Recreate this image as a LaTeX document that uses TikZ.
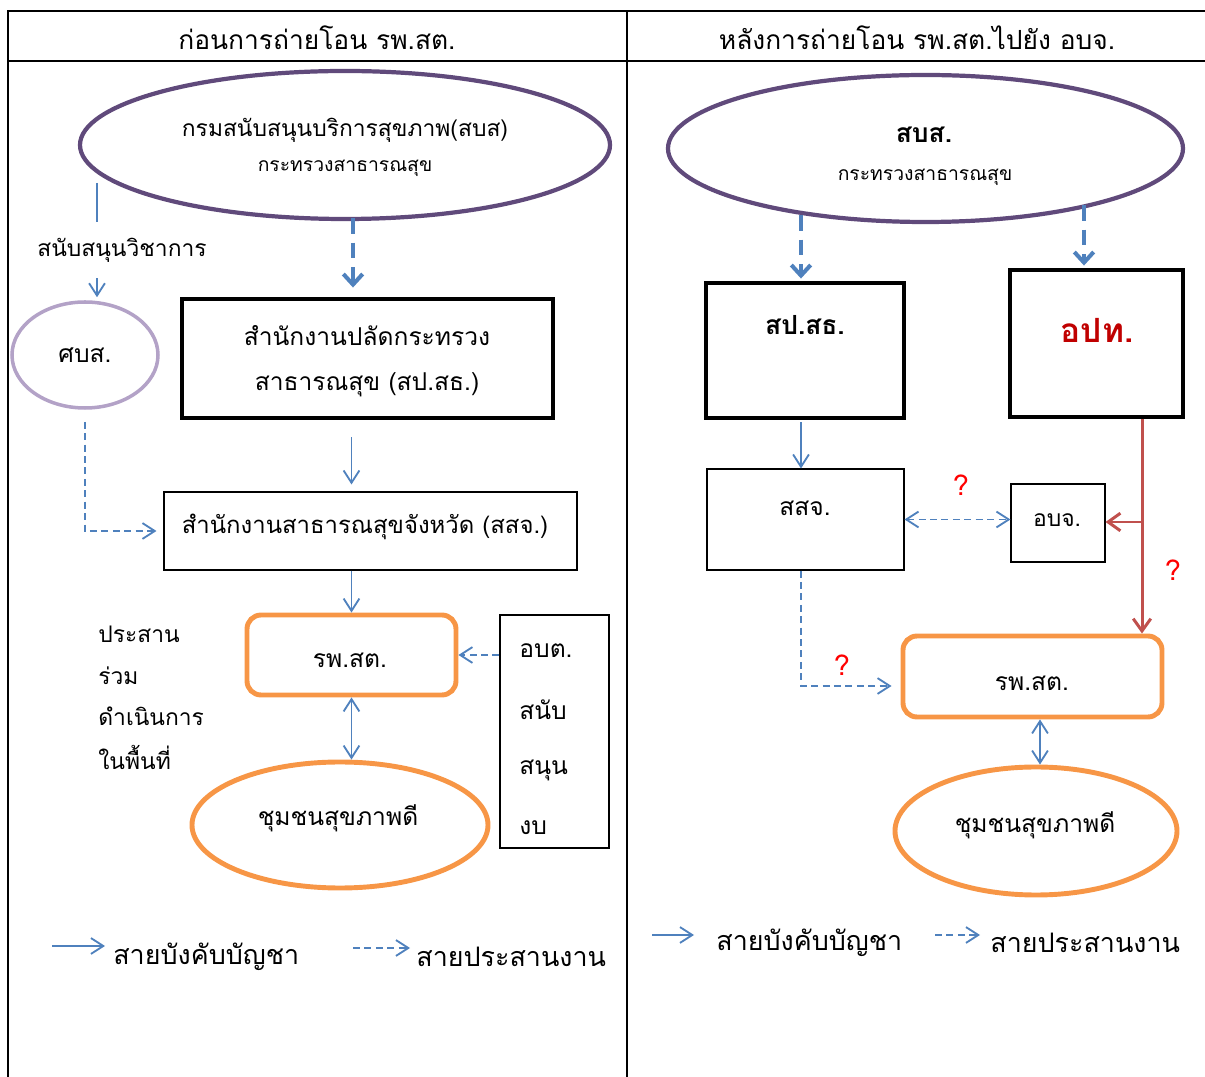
\documentclass[tikz,border=0pt]{standalone}
\usepackage{fontspec}
\setmainfont[Script=Thai]{Loma}
\usetikzlibrary{arrows.meta,shapes.geometric,calc}
\definecolor{oblue}{HTML}{4F81BD}
\definecolor{oorange}{HTML}{F79646}
\definecolor{opurple}{HTML}{604A7B}
\definecolor{lpurple}{HTML}{B3A2C7}
\definecolor{ored}{HTML}{C0504D}
\definecolor{dred}{HTML}{C00000}
\begin{document}
\begin{tikzpicture}[x=0.02cm,y=-0.02cm,
  sz/.style 2 args={minimum width=#1*0.02cm, minimum height=#2*0.02cm},
  every node/.style={inner sep=0pt, font=\fontsize{13}{15}\selectfont},
  hdr/.style={font=\fontsize{15}{18}\selectfont},
  big/.style={font=\fontsize{14}{17}\selectfont},
  mid/.style={font=\fontsize{13.6}{16}\selectfont},
  small/.style={font=\fontsize{11}{13}\selectfont},
  leg/.style={font=\fontsize{15.3}{18}\selectfont, anchor=west},
  ell/.style={ellipse, line width=2.4pt},
  thickbox/.style={draw, rectangle, line width=2.8pt},
  thinbox/.style={draw, rectangle, line width=0.6pt},
  obox/.style={draw=oorange, rectangle, rounded corners=8pt, line width=2.8pt},
  sarr/.style={draw=oblue, line width=1.05pt, -{Straight Barb[length=7pt,width=9pt]}},
  darr/.style={draw=oblue, line width=1.05pt, {Straight Barb[length=7pt,width=9pt]}-{Straight Barb[length=7pt,width=9pt]}},
  dsarr/.style={draw=oblue, line width=1.05pt, dash pattern=on 4pt off 2.5pt, -{Straight Barb[length=7pt,width=9pt]}},
  ddsarr/.style={draw=oblue, line width=1.05pt, dash pattern=on 4pt off 2.5pt, {Straight Barb[length=7pt,width=9pt]}-{Straight Barb[length=7pt,width=9pt]}},
  dthick/.style={draw=oblue, line width=2.3pt, dash pattern=on 9pt off 5pt, -{Straight Barb[length=6pt,width=11pt]}},
  redarr/.style={draw=ored, line width=1.7pt, -{Straight Barb[length=7pt,width=10pt]}},
  qm/.style={text=red, font=\fontsize{16}{19}\selectfont}
]
\useasboundingbox (0,0) rectangle (1205,1077);
% table
\draw[line width=1.1pt] (8,1077) -- (8,11) -- (1205,11);
\draw[line width=1.1pt] (8,61) -- (1205,61);
\draw[line width=1.1pt] (627,11) -- (627,1077);
\node[hdr] (h1) at (317,38) {ก่อนการถ่ายโอน รพ.สต.};
\node[hdr] (h2) at (917,38) {หลังการถ่ายโอน รพ.สต.ไปยัง อบจ.};

% ---------- left ----------
\node[ell, draw=opurple, sz={530}{148}] (dss1) at (345,145) {};
\node (dss1a) at (345,130) {กรมสนับสนุนบริการสุขภาพ(สบส)};
\node[small] (dss1b) at (345,168) {กระทรวงสาธารณสุข};
\node[ell, draw=lpurple, line width=2pt, sz={146}{106}, big] (sbs) at (85,355) {ศบส.};
\node[thickbox, sz={371}{119}] (sp) at (367.5,358.5) {};
\node[big] (spa) at (367,336) {สำนักงานปลัดกระทรวง};
\node[big] (spb) at (367,385) {สาธารณสุข (สป.สธ.)};
\node[thinbox, sz={413}{78}] (ssj) at (370.5,531) {};
\node[mid] (ssja) at (365,527) {สำนักงานสาธารณสุขจังหวัด (สสจ.)};
\node[obox, sz={209}{80}] (rp1) at (351.5,655) {};
\node[big] (rp1a) at (350,660) {รพ.สต.};
\node[thinbox, sz={109}{233}] (obt) at (554.5,731.5) {};
\node[big, anchor=west] (obt1) at (519,651) {อบต.};
\node[big, anchor=west] (obt2) at (519,710) {สนับ};
\node[big, anchor=west] (obt3) at (519,770) {สนุน};
\node[big, anchor=west] (obt4) at (519,828) {งบ};
\node[ell, draw=oorange, line width=2.8pt, sz={296}{126}] (com1) at (340,825) {};
\node[big] (com1a) at (338,818) {ชุมชนสุขภาพดี};
\node[anchor=west] (p1) at (98,634) {ประสาน};
\node[anchor=west] (p2) at (98,676) {ร่วม};
\node[anchor=west] (p3) at (98,716) {ดำเนินการ};
\node[anchor=west] (p4) at (98,757) {ในพื้นที่};

\coordinate (c1) at (353,218);
\draw[dthick, shorten >=9*0.02cm] (c1) -- (c1 |- sp.north);
\coordinate (sv) at (97,183);
\draw[sarr, shorten >=3*0.02cm] (sv) -- (sv |- sbs.north);
\node[fill=white, inner ysep=9pt, inner xsep=1pt] (sup) at (122,250) {สนับสนุนวิชาการ};
\draw[sarr, shorten <=17*0.02cm, shorten >=7*0.02cm] (sp.south -| rp1) -- (ssj.north -| rp1);
\draw[sarr] (ssj.south -| rp1) -- (rp1.north);
\draw[darr] (rp1.south) -- (rp1.south |- com1.north);
\draw[dsarr] (obt.west |- rp1) -- (rp1.east);
\draw[dsarr, shorten <=12*0.02cm, shorten >=7*0.02cm] (sbs.south) |- (ssj.west);

\coordinate (l1a) at (52,946);
\coordinate (l1b) at (105,946);
\draw[sarr] (l1a) -- (l1b);
\node[leg] (leg1) at (113,957) {สายบังคับบัญชา};
\coordinate (l2a) at (353,948);
\coordinate (l2b) at (410,948);
\draw[dsarr] (l2a) -- (l2b);
\node[leg] (leg2) at (416,957) {สายประสานงาน};

% ---------- right ----------
\node[ell, draw=opurple, sz={515}{147}] (dss2) at (925.5,148.5) {};
\node[font=\fontsize{15}{18}\selectfont\bfseries] (dss2a) at (924,135) {สบส.};
\node[small] (dss2b) at (925,177) {กระทรวงสาธารณสุข};
\node[thickbox, sz={198}{135}] (sp2) at (805,350.5) {};
\node[font=\fontsize{15}{18}\selectfont\bfseries] (sp2a) at (805,325) {สป.สธ.};
\node[thickbox, sz={173}{147}] (opt) at (1096.5,343.5) {};
\node[text=dred, font=\fontsize{19}{22}\selectfont\bfseries] (opta) at (1097,330) {อปท.};
\node[thinbox, sz={197}{101}] (ssj2) at (805.5,519.5) {};
\node[big] (ssj2a) at (805,508) {สสจ.};
\node[thinbox, sz={94}{78}] (obj) at (1058,523) {};
\node (obja) at (1057,520) {อบจ.};
\node[obox, sz={259}{81}] (rp2) at (1032.5,676.5) {};
\node[big] (rp2a) at (1032,683) {รพ.สต.};
\node[ell, draw=oorange, line width=2.8pt, sz={282}{128}] (com2) at (1036,831) {};
\node[big] (com2a) at (1035,825) {ชุมชนสุขภาพดี};

\coordinate (c2) at (801,215);
\draw[dthick, shorten >=2*0.02cm] (c2) -- (c2 |- sp2.north);
\coordinate (c3) at (1084,205);
\draw[dthick, shorten >=2*0.02cm] (c3) -- (c3 |- opt.north);
\draw[sarr, shorten <=2*0.02cm] (sp2.south -| c2) -- (ssj2.north -| c2);
\draw[ddsarr] (ssj2.east) -- (ssj2.east -| obj.west);
\node[qm] (q1) at (961,485) {?};
\coordinate (r1) at (1142,419);
\draw[redarr] (r1) -- (r1 |- rp2.north);
\coordinate (r2) at (1142,522);
\draw[redarr] (r2) -- (r2 -| obj.east);
\node[qm] (q2) at (1173,570) {?};
\coordinate (c4) at (801,686);
\draw[dsarr, shorten >=9*0.02cm] (ssj2.south -| c4) |- (rp2.west |- c4);
\node[qm] (q3) at (842,665) {?};
\coordinate (c5) at (1040,700);
\draw[darr] (rp2.south -| c5) -- (com2.north -| c5);

\coordinate (l3a) at (652,935);
\coordinate (l3b) at (694,935);
\draw[sarr] (l3a) -- (l3b);
\node[leg] (leg3) at (716,943) {สายบังคับบัญชา};
\coordinate (l4a) at (935,935);
\coordinate (l4b) at (980,935);
\draw[dsarr] (l4a) -- (l4b);
\node[leg] (leg4) at (990,943) {สายประสานงาน};
\end{tikzpicture}
\end{document}
